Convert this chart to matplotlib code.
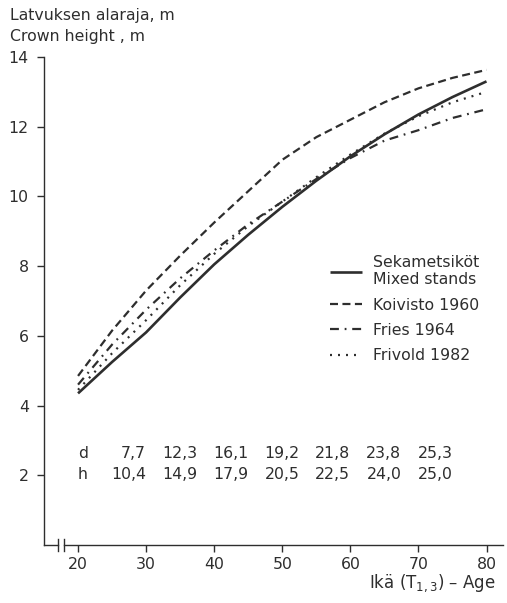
import matplotlib
matplotlib.use("Agg")
import matplotlib.pyplot as plt

plt.rcParams['font.family'] = ['DejaVu Sans']
plt.rcParams['mathtext.fontset'] = 'dejavusans'

# ages and crown heights
ages = [20, 25, 30, 35, 40, 45, 50, 55, 60, 65, 70, 75, 80]
mixed = [4.35, 5.25, 6.1, 7.1, 8.05, 8.9, 9.7, 10.45, 11.15, 11.78, 12.35, 12.85, 13.3]
koivisto = [4.85, 6.15, 7.3, 8.3, 9.25, 10.15, 11.05, 11.7, 12.2, 12.7, 13.1, 13.4, 13.63]
fries = [4.6, 5.75, 6.75, 7.65, 8.45, 9.2, 9.85, 10.5, 11.1, 11.6, 11.9, 12.25, 12.5]
frivold = [4.45, 5.5, 6.45, 7.45, 8.35, 9.15, 9.85, 10.55, 11.2, 11.8, 12.3, 12.7, 13.0]

labels = ["Sekametsiköt\nMixed stands", "Koivisto 1960", "Fries 1964", "Frivold 1982"]

# table of d and h under the curves
d_vals = ["7,7", "12,3", "16,1", "19,2", "21,8", "23,8", "25,3"]
h_vals = ["10,4", "14,9", "17,9", "20,5", "22,5", "24,0", "25,0"]

xticks = [20, 30, 40, 50, 60, 70, 80]
yticks = [2, 4, 6, 8, 10, 12, 14]

ink = "#2e2e2e"
fs = 11.3

fig = plt.figure(figsize=(5.07, 6.03), dpi=100)
ax = fig.add_axes([0.0868, 0.0962, 0.905, 0.8093])

ax.plot(ages, mixed, color=ink, lw=1.9, label=labels[0], solid_capstyle='butt')
ax.plot(ages, koivisto, color=ink, lw=1.6, linestyle=(0, (3.6, 2.0)), label=labels[1])
ax.plot(ages, fries, color=ink, lw=1.6, linestyle=(0, (4.0, 2.6, 0.8, 2.6)), label=labels[2])
ax.plot(ages, frivold, color=ink, lw=1.6, linestyle=(0, (0.9, 2.7)), label=labels[3])

ax.set_xlim(15, 82.4)
ax.set_ylim(0, 14)

for s in ['top', 'right', 'bottom']:
    ax.spines[s].set_visible(False)
ax.spines['left'].set_color(ink)
ax.spines['left'].set_linewidth(1.0)

# broken x axis line
ax.plot([15, 17.0], [0, 0], color=ink, lw=1.0, clip_on=False)
ax.plot([17.9, 82.4], [0, 0], color=ink, lw=1.0, clip_on=False)
for xb in [17.0, 17.9]:
    ax.plot([xb, xb], [-0.17, 0.17], color=ink, lw=1.0, clip_on=False)

ax.set_xticks(xticks)
ax.set_yticks(yticks)
ax.tick_params(axis='both', colors=ink, labelsize=fs, length=5, width=1.0, direction='out')
ax.tick_params(axis='y', pad=6)
ax.tick_params(axis='x', pad=4)

for i, (dv, hv) in enumerate(zip(d_vals, h_vals)):
    xp = 30 + 7.5 * i
    ax.text(xp, 2.62, dv, ha='right', va='center', fontsize=fs, color=ink)
    ax.text(xp, 2.02, hv, ha='right', va='center', fontsize=fs, color=ink)
ax.text(20.0, 2.62, "d", ha='left', va='center', fontsize=fs, color=ink)
ax.text(20.0, 2.02, "h", ha='left', va='center', fontsize=fs, color=ink)

leg = ax.legend(loc='upper left', bbox_to_anchor=(0.61, 0.607), frameon=False,
                fontsize=fs, handlelength=2.0, handletextpad=0.7, labelspacing=0.65,
                borderaxespad=0)
for t in leg.get_texts():
    t.set_color(ink)

fig.text(0.02, 0.975, "Latvuksen alaraja, m", fontsize=fs, color=ink, va='center')
fig.text(0.02, 0.94, "Crown height , m", fontsize=fs, color=ink, va='center')
fig.text(0.978, 0.033, r"Ikä (T$_\mathregular{1,3}$) – Age", fontsize=fs + 0.7, color=ink,
         ha='right', va='center')

fig.savefig("out.png", dpi=100)
